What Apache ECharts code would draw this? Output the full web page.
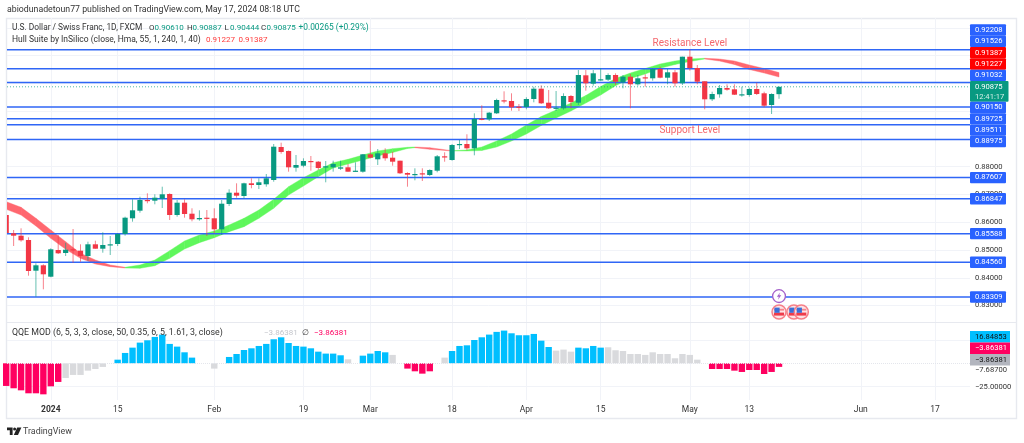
<!DOCTYPE html>
<html>
<head>
<meta charset="utf-8">
<style>
  html, body { margin: 0; padding: 0; background: #fff; }
  #main { width: 1024px; height: 443px; }
</style>
<script src="https://cdn.jsdelivr.net/npm/echarts@6/dist/echarts.min.js"></script>
</head>
<body>
<div id="main"></div>
<script>
// daily candles, bar 0 is mid December 2023
const opens = [.8626,.85601,.85515,.8536,.84255,.84449,.84039,.85,.84892,.85025,.84975,.84784,.85205,.85047,.85169,.85216,.85576,.86141,.86415,.868,.86775,.86847,.87016,.8626,.86703,.86307,.86105,.86163,.86141,.85745,.86656,.87063,.86944,.87401,.8734,.87365,.8752,.88708,.88564,.87963,.88035,.88204,.88179,.87977,.87977,.87927,.87977,.87819,.87819,.88445,.88265,.88481,.88323,.88215,.87772,.87711,.87761,.877,.87855,.88373,.8824,.88791,.88816,.88661,.89727,.89705,.89921,.90389,.90364,.90159,.90148,.90436,.90807,.90303,.90087,.90101,.90544,.90303,.91289,.90987,.9112,.91131,.913,.9103,.91239,.90965,.91217,.91181,.91516,.91203,.91397,.91001,.91959,.91552,.91073,.90425,.90605,.90832,.90785,.90569,.9058,.90796,.90641,.9022,.9061]
const closes = [.85612,.85515,.85349,.84244,.84449,.84125,.85025,.84881,.85011,.85,.84784,.85205,.85047,.8518,.85205,.85576,.86163,.86429,.868,.86764,.86883,.87005,.8626,.86703,.86296,.86105,.86152,.86127,.85745,.86667,.87063,.86955,.87401,.8734,.87437,.87581,.88719,.88528,.87977,.8806,.88204,.88179,.87952,.88013,.88096,.87977,.87819,.87855,.88445,.88323,.88481,.88301,.88179,.87761,.87711,.87736,.87725,.8788,.88373,.88348,.8878,.88816,.88661,.89716,.89691,.89943,.904,.90353,.90137,.90137,.90436,.90807,.90281,.90101,.90123,.90544,.90328,.913,.91001,.91361,.91145,.913,.91059,.91239,.90965,.91181,.91192,.91516,.91203,.91397,.91001,.91959,.91552,.91059,.90425,.90616,.90832,.90771,.90591,.90605,.90796,.90616,.90195,.90616,.90875]
const lows = [.8554,.85144,.85299,.84075,.83319,.83585,.84017,.84856,.84784,.84543,.84579,.84615,.85047,.84903,.8482,.85144,.85515,.86019,.86343,.86681,.86645,.86512,.8608,.86199,.86163,.86033,.86055,.85504,.85601,.8554,.86584,.86883,.86861,.87221,.87196,.87279,.87459,.88467,.87819,.87819,.87977,.87855,.8788,.87437,.87819,.8788,.87819,.87819,.87783,.88301,.8806,.88215,.88035,.87736,.87279,.87509,.87484,.87664,.87797,.88179,.88215,.88636,.88589,.88409,.89669,.89644,.89896,.90281,.90015,.90004,.90065,.90317,.90256,.90076,.90004,.90051,.90101,.9022,.90735,.90915,.91095,.91084,.9094,.90821,.90101,.90915,.90879,.91095,.91181,.90965,.90879,.9094,.91455,.90965,.90065,.90364,.90483,.90735,.9058,.90519,.90519,.9058,.90137,.89896,.90444]
const highs = [.86332,.8572,.85781,.85457,.84521,.84485,.85061,.8554,.85263,.85756,.85205,.85299,.85335,.85637,.85504,.85601,.86199,.86825,.86919,.87041,.87005,.87279,.87041,.868,.86825,.86501,.86429,.8644,.86501,.868,.87185,.87401,.87423,.87581,.87581,.87736,.88816,.88863,.88582,.8842,.88301,.88384,.88204,.88204,.88215,.88215,.88096,.88157,.88456,.88924,.88636,.88661,.88539,.88215,.87797,.87941,.87941,.87905,.8842,.88517,.88816,.8896,.89165,.89921,.90209,.89968,.90447,.90713,.90641,.90256,.90497,.90879,.90929,.9076,.90724,.90641,.9058,.9148,.9148,.9148,.91541,.91361,.91361,.913,.91336,.913,.91325,.91541,.91599,.91516,.9148,.91959,.92225,.9166,.91073,.90699,.9094,.90965,.90965,.90879,.90843,.91023,.90699,.90641,.90887]

// hull suite band, sampled along the bars
const hullBars = [0,2,4,6,8,10,12,14,16,18,20,22,24,26,28,30,32,34,36,38,40,42,44,46,48,50,52,54,55,57,60,62,64,66,68,70,72,74,76,78,80,82,84,86,88,90,92,94,96,98,100,102,104]
const hullUpper = [.86739,.86537,.86141,.8572,.85299,.84881,.8464,.8446,.84377,.8446,.8464,.84975,.85324,.8554,.85684,.859,.86141,.8644,.86825,.87279,.87603,.8788,.88143,.88265,.8842,.88564,.88647,.88697,.88708,.88683,.88575,.886,.88708,.88924,.89176,.895,.89806,.9004,.90292,.90562,.90886,.91174,.91372,.91534,.91696,.91804,.91876,.91901,.91876,.91804,.9166,.91534,.91387]
const hullLower = [.86465,.8626,.85864,.85421,.85025,.84701,.84496,.84399,.84352,.84341,.84435,.84701,.85036,.85263,.85443,.85659,.85839,.86141,.86501,.8698,.87304,.87639,.87952,.88096,.8824,.88384,.8851,.88654,.88683,.88625,.88564,.88564,.88582,.88708,.88924,.89176,.89482,.89752,.90004,.90292,.9058,.90915,.91174,.91336,.91541,.91678,.91786,.91876,.91804,.91678,.91498,.91372,.91227]
const hullRedFrom = [0,55,94]
const hullRedTo = [16,60,104]

// drawn support / resistance levels
const levelPrices = [.92208,.91526,.91032,.9015,.89725,.89511,.88975,.87607,.86847,.85588,.8456,.83309]
const lastPrice = .90875

// qqe histogram, null where the bar is empty
const qqeValues = [-24.3,-26.8,-29,-32.2,-32.2,-33.3,-24.7,-20,-15.8,-12.5,-12.5,-7.9,-6.1,-3.9,null,3.9,11.1,16.8,22.2,24.7,28.3,30.8,20.8,17.9,11.8,6.1,null,null,-5.7,null,6.8,10,14.3,16.1,18.6,20.8,25.8,27.9,21.8,18.6,17.9,16.1,12.5,10.4,10.4,8.6,4.3,null,8.2,10.4,13.2,11.8,9,null,-5.7,-8.6,-11.1,-8.6,null,6.1,13.2,18.6,19.3,25,27.9,30.8,33.7,35.1,32.2,30.1,30.1,31.5,24.3,17.5,13.6,14.7,12.5,16.8,16.1,18.6,16.8,17.2,14,13.2,10,10,9,11.8,10,10,5.4,10,9,3.9,null,-6.1,-6.1,-6.1,-7.9,-9.3,-7.2,-7.2,-11.5,-9.3,-3.86]
const qqeNeutralBars = [8,9,10,11,12,13,28,46,52,59,74,75,76,81,82,83,84,85,86,87,88,89,90,91,92,93]

// axes
const xTickBars = [6,15,28,40,49,60,70,80,92,100,115,125]
const xTickLabels = ['2024','15','Feb','19','Mar','18','Apr','15','May','13','Jun','17']
const priceTicks = [.83,.84,.85,.86,.87,.88,.89,.9,.91,.92,.93]
const priceLabels = [.83,.84,.85,.86,.87,.88]
const qqeGridTicks = [25,-25]
const qqeLabelTicks = [-7.687,-25]

// price tags on the right axis
const stackedTags = ['0.92208','0.91526','0.91387','0.91227','0.91032','0.90875','0.90150','0.89725','0.89511','0.88975']
const lowerTags = [.87607,.86847,.85588,.8456,.83309]
const qqeTags = ['16.84853','\u22123.86381','\u22123.86381']

// notes on the chart
const noteTexts = ['Resistance Level','Support Level']
const noteBars = [92,92]
const notePrices = [.92452,.8932]
const flagBars = [104,106,107]
const flagPrice = .82768
const boltBar = 104
const boltPrice = .8334

const legendLabels = ['O','H','L','C']
const legendValues = ['0.90610','0.90887','0.90444','0.90875']

const GREEN = '#089981'
const RED = '#f23645'
const BLUE = '#2962ff'
const GRID = '#f1f3f8'
const FONT = 'Roboto'

const xMin = 0.108
const xMax = 129.7

const candleData = opens.map((o, i) => [i, o, closes[i], lows[i], highs[i]])
const hullData = hullBars.slice(0, -1).map((b, i) => [b, hullUpper[i], hullLower[i], hullBars[i + 1], hullUpper[i + 1], hullLower[i + 1]])
const qqeData = qqeValues.map((v, i) => [i, v]).filter(d => d[1] !== null)

const isHullRed = bar => hullRedFrom.some((f, i) => bar >= f && bar < hullRedTo[i])

const renderCandle = (params, api) => {
  const o = api.value(1)
  const c = api.value(2)
  const color = c >= o ? GREEN : RED
  const top = api.coord([api.value(0), Math.max(o, c)])
  const bottom = api.coord([api.value(0), Math.min(o, c)])
  const hi = api.coord([api.value(0), api.value(4)])
  const lo = api.coord([api.value(0), api.value(3)])
  const x = top[0]
  return {
    type: 'group',
    children: [
      { type: 'line', shape: { x1: x, y1: hi[1], x2: x, y2: lo[1] }, style: { stroke: color, lineWidth: 1, opacity: 0.62 } },
      { type: 'rect', shape: { x: x - 2.6, y: top[1], width: 5.2, height: Math.max(bottom[1] - top[1], 1.2) }, style: { fill: color } }
    ]
  }
}

const renderHull = (params, api) => {
  const a = api.coord([api.value(0), api.value(1)])
  const b = api.coord([api.value(3), api.value(4)])
  const c = api.coord([api.value(3), api.value(5)])
  const d = api.coord([api.value(0), api.value(2)])
  const color = isHullRed(api.value(0)) ? '#ff676f' : '#5ff75c'
  return {
    type: 'polygon',
    shape: { points: [a, b, c, d] },
    style: { fill: color, stroke: color, lineWidth: 0.4 }
  }
}

const renderLevel = (params, api) => {
  const a = api.coord([xMin, api.value(1)])
  const b = api.coord([xMax, api.value(1)])
  return { type: 'line', shape: { x1: a[0], y1: a[1], x2: b[0], y2: b[1] }, style: { stroke: '#2f66f6', lineWidth: 1.5 } }
}

const renderLastPrice = (params, api) => {
  const a = api.coord([xMin, api.value(1)])
  const b = api.coord([xMax, api.value(1)])
  return { type: 'line', shape: { x1: a[0], y1: a[1], x2: b[0], y2: b[1] }, style: { stroke: GREEN, lineWidth: 1, lineDash: [1, 2], opacity: 0.7 } }
}

const tagText = (text, x, y, fill) => ({
  type: 'text',
  style: { text, x, y, fill, font: '7.6px ' + FONT, textAlign: 'left', textVerticalAlign: 'middle' }
})

// the first tags are pushed into one stack like on the TradingView axis
const renderStackedTag = (params, api) => {
  const i = params.dataIndex
  const step = 11.35
  const stackTop = 24.3
  const isLast = i === 5
  const y = stackTop + step * i + (i > 5 ? 9.4 : 0)
  const h = isLast ? 20.6 : step
  const isHull = i === 2 || i === 3
  const fill = isLast ? GREEN : (isHull ? '#ff0000' : BLUE)
  const children = [
    { type: 'rect', shape: { x: 970, y, width: isLast ? 38.5 : 36, height: h, r: 1 }, style: { fill } },
    tagText(stackedTags[i], 975, isLast ? y + 6 : y + h / 2, '#fff')
  ]
  if (isLast) children.push(tagText('12:41:17', 975, y + 15.6, '#d5efe8'))
  return { type: 'group', children }
}

const renderLowerTag = (params, api) => {
  const y = api.coord([xMax, api.value(1)])[1]
  return {
    type: 'group',
    children: [
      { type: 'rect', shape: { x: 970, y: y - 5.7, width: 36, height: 11.4, r: 1 }, style: { fill: BLUE } },
      tagText(api.value(1).toFixed(5), 975, y, '#fff')
    ]
  }
}

const renderQqeTag = (params, api) => {
  const i = params.dataIndex
  const fills = ['#00bfff', '#ff0060', '#b2b5be']
  const inks = ['#111', '#fff', '#111']
  const y = 331 + i * 11.5
  return {
    type: 'group',
    children: [
      { type: 'rect', shape: { x: 970, y, width: 40, height: 11.5 }, style: { fill: fills[i] } },
      tagText(qqeTags[i], 975, y + 5.8, inks[i])
    ]
  }
}

const renderNote = (params, api) => {
  const p = api.coord([api.value(0), api.value(1)])
  return {
    type: 'text',
    style: { text: noteTexts[params.dataIndex], x: p[0], y: p[1], fill: '#f4686e', font: '10px ' + FONT, textAlign: 'center', textVerticalAlign: 'middle' }
  }
}

const renderFlag = (params, api) => {
  const p = api.coord([api.value(0), api.value(1)])
  const x = p[0]
  const y = p[1]
  return {
    type: 'group',
    children: [
      { type: 'circle', shape: { cx: x, cy: y, r: 7 }, style: { fill: '#fde3e5', stroke: '#f77f88', lineWidth: 1.5 } },
      { type: 'rect', shape: { x: x - 5, y: y - 3.2, width: 10, height: 1.8 }, style: { fill: '#f7858c' } },
      { type: 'rect', shape: { x: x - 5, y: y + 0.6, width: 10, height: 3 }, style: { fill: '#ef3b4a' } },
      { type: 'rect', shape: { x: x - 4.6, y: y - 4.4, width: 5.2, height: 5.2 }, style: { fill: '#3b6fd8' } }
    ]
  }
}

const renderBolt = (params, api) => {
  const p = api.coord([api.value(0), api.value(1)])
  const x = p[0]
  const y = p[1]
  return {
    type: 'group',
    children: [
      { type: 'circle', shape: { cx: x, cy: y, r: 6.4 }, style: { fill: '#fff', stroke: '#a45fca', lineWidth: 1.3 } },
      { type: 'polygon', shape: { points: [[x + 1, y - 3.6], [x - 2.2, y + 0.6], [x - 0.2, y + 0.6], [x - 1, y + 3.6], [x + 2.2, y - 0.8], [x + 0.2, y - 0.8]] }, style: { fill: '#a45fca' } }
    ]
  }
}

const chart = echarts.init(document.getElementById('main'), null, { renderer: 'canvas' })

const plainText = (text, x, y, fill, size, extra) => ({
  type: 'text',
  z: 20,
  x,
  y,
  style: Object.assign({ text, fill, font: (size || 8) + 'px ' + FONT, textVerticalAlign: 'middle' }, extra || {})
})

const legendXs = [149, 187, 224.5, 261]
const legendGraphics = []
legendLabels.forEach((label, i) => {
  legendGraphics.push(plainText(label, legendXs[i], 28, '#333', 8))
  legendGraphics.push(plainText(legendValues[i], legendXs[i] + 5.6, 28, GREEN, 8))
})

const graphics = [
  { type: 'rect', z: -1, shape: { x: 6.5, y: 18.5, width: 1010, height: 400 }, style: { fill: '#fff', stroke: '#e7e9ef', lineWidth: 1.4 } },
  { type: 'line', z: 1, shape: { x1: 7, y1: 322.5, x2: 1016, y2: 322.5 }, style: { stroke: '#e7e9ef', lineWidth: 1 } },
  plainText('abiodunadetoun77 published on TradingView.com, May 17, 2024 08:18 UTC', 7, 9.5, '#333', 8.75),
  plainText('U.S. Dollar / Swiss Franc, 1D, FXCM', 12, 28, '#333', 8.35),
  ...legendGraphics,
  plainText('+0.00265 (+0.29%)', 298.5, 28, GREEN, 8.4),
  plainText('Hull Suite by InSilico (close, Hma, 55, 1, 240, 1, 40)', 12, 40, '#333', 8.5),
  plainText('0.91227', 206, 40, '#ff3b3b', 8),
  plainText('0.91387', 238.5, 40, '#ff3b3b', 8),
  plainText('QQE MOD (6, 5, 3, 3, close, 50, 0.35, 6, 5, 1.61, 3, close)', 12, 332.5, '#333', 8.8),
  plainText('\u22123.86381', 264, 332.5, '#c4c6cc', 8),
  plainText('\u2205', 302, 332.5, '#333', 8),
  plainText('\u22123.86381', 314, 332.5, '#ff0060', 8),
  // TradingView logo
  { type: 'polygon', z: 20, shape: { points: [[7, 427.4], [12.6, 427.4], [12.6, 435], [9.8, 435], [9.8, 430.2], [7, 430.2]] }, style: { fill: '#222' } },
  { type: 'circle', z: 20, shape: { cx: 14.6, cy: 428.9, r: 1.5 }, style: { fill: '#222' } },
  { type: 'polygon', z: 20, shape: { points: [[17.2, 427.4], [21.4, 427.4], [18, 435], [13.8, 435]] }, style: { fill: '#222' } },
  plainText('TradingView', 23, 431.3, '#444', 8.9)
]

const xAxisBase = {
  type: 'value',
  min: xMin,
  max: xMax,
  axisLine: { show: false },
  axisTick: { show: false, customValues: xTickBars },
  splitLine: { show: true, lineStyle: { color: GRID, width: 1 } }
}

const option = {
  animation: false,
  backgroundColor: '#fff',
  textStyle: { fontFamily: FONT },
  graphic: graphics,
  grid: [
    { left: 7, right: 54, top: 18, height: 304 },
    { left: 7, right: 54, top: 323, height: 77 }
  ],
  xAxis: [
    Object.assign({}, xAxisBase, { gridIndex: 0, axisLabel: { show: false, customValues: xTickBars } }),
    Object.assign({}, xAxisBase, {
      gridIndex: 1,
      axisLabel: {
        customValues: xTickBars,
        margin: 5,
        color: '#333',
        fontSize: 8.5,
        formatter: v => {
          const text = xTickLabels[xTickBars.indexOf(v)]
          return text === '2024' ? '{b|2024}' : text
        },
        rich: { b: { fontWeight: 'bold', fontSize: 8.5, color: '#333' } }
      }
    })
  ],
  yAxis: [
    {
      type: 'value',
      gridIndex: 0,
      position: 'right',
      min: .82408,
      max: .93352,
      axisLine: { show: false },
      axisTick: { show: false, customValues: priceTicks },
      splitLine: { show: true, lineStyle: { color: GRID, width: 1 } },
      axisLabel: {
        customValues: priceLabels,
        margin: 5,
        color: '#333',
        fontSize: 7.6,
        formatter: v => v.toFixed(5)
      }
    },
    {
      type: 'value',
      gridIndex: 1,
      position: 'right',
      min: -39.38,
      max: 43.24,
      axisLine: { show: false },
      axisTick: { show: false, customValues: qqeGridTicks },
      splitLine: { show: true, lineStyle: { color: GRID, width: 1 } },
      axisLabel: {
        customValues: qqeLabelTicks,
        margin: 5,
        color: '#333',
        fontSize: 7.6,
        formatter: v => v.toFixed(5).replace('-', '\u2212')
      }
    }
  ],
  series: [
    {
      name: 'hull',
      type: 'custom',
      z: 2,
      clip: true,
      renderItem: renderHull,
      data: hullData
    },
    {
      name: 'levels',
      type: 'custom',
      z: 3,
      renderItem: renderLevel,
      data: levelPrices.map(v => [0, v])
    },
    {
      name: 'candles',
      type: 'custom',
      z: 4,
      clip: true,
      renderItem: renderCandle,
      data: candleData
    },
    {
      name: 'last price',
      type: 'custom',
      z: 4,
      renderItem: renderLastPrice,
      data: [[0, lastPrice]]
    },
    {
      name: 'notes',
      type: 'custom',
      z: 5,
      renderItem: renderNote,
      data: noteBars.map((b, i) => [b, notePrices[i]])
    },
    {
      name: 'bolt',
      type: 'custom',
      z: 6,
      renderItem: renderBolt,
      data: [[boltBar, boltPrice]]
    },
    {
      name: 'flags',
      type: 'custom',
      z: 6,
      renderItem: renderFlag,
      data: flagBars.map(b => [b, flagPrice])
    },
    {
      name: 'price tags',
      type: 'custom',
      z: 10,
      renderItem: renderStackedTag,
      data: stackedTags.map(t => [0, parseFloat(t)])
    },
    {
      name: 'level tags',
      type: 'custom',
      z: 10,
      renderItem: renderLowerTag,
      data: lowerTags.map(v => [0, v])
    },
    {
      name: 'qqe',
      type: 'bar',
      xAxisIndex: 1,
      yAxisIndex: 1,
      barWidth: 6.4,
      z: 3,
      itemStyle: {
        color: p => {
          if (qqeNeutralBars.includes(p.value[0])) return '#d9dadd'
          return p.value[1] > 0 ? '#00bfff' : '#ff0060'
        }
      },
      markLine: {
        silent: true,
        symbol: 'none',
        label: { show: false },
        lineStyle: { color: '#e4e6ec', type: 'dotted', width: 1 },
        data: [{ yAxis: 0 }]
      },
      data: qqeData
    },
    {
      name: 'qqe tags',
      type: 'custom',
      xAxisIndex: 1,
      yAxisIndex: 1,
      z: 10,
      renderItem: renderQqeTag,
      data: qqeTags.map((t, i) => [0, i])
    }
  ]
}

chart.setOption(option)
</script>
</body>
</html>
